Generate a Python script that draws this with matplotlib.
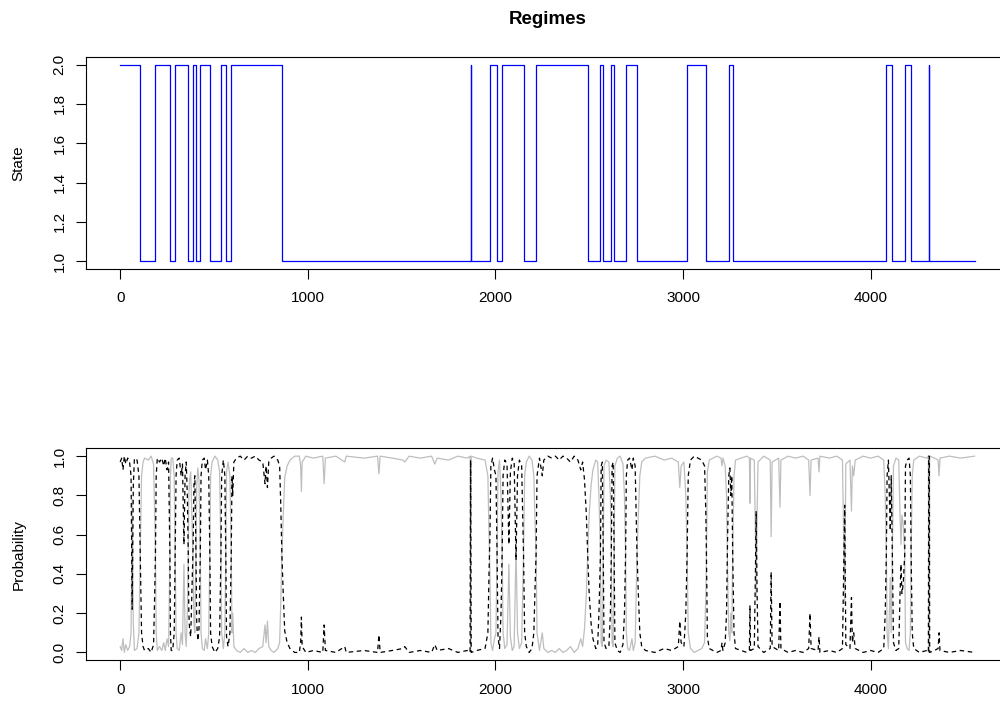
import matplotlib
matplotlib.use('Agg')
import matplotlib.pyplot as plt

# ---------------- data ----------------
# Regime path (step function): time where each regime starts and its state
regime_change = [0, 107, 188, 265, 293, 363, 389, 404, 427, 478,
                 537, 563, 592, 862, 1868, 1869, 1971, 2009, 2036, 2150,
                 2217, 2492, 2560, 2575, 2618, 2633, 2694, 2755, 3022, 3125,
                 3244, 3265, 4084, 4116, 4182, 4216, 4310, 4313]
regime_state = [2, 1, 2, 1, 2, 1, 2, 1, 2, 1,
                2, 1, 2, 1, 2, 1, 2, 1, 2, 1,
                2, 1, 2, 1, 2, 1, 2, 1, 2, 1,
                2, 1, 2, 1, 2, 1, 2, 1]
series_end = 4554

# Smoothed probabilities (vertices)
prob_time = [
    0, 8, 15, 22, 30, 40, 50, 58, 64, 70, 76, 90, 100, 107, 114, 122,
    130, 150, 165, 178, 184, 188, 192, 198,
    210, 222, 232, 240, 250, 258, 262, 265, 268, 272,
    280, 288, 293, 298, 304,
    315, 325, 332, 340, 346, 352, 358, 363, 366,
    370, 376, 382, 386, 389,
    393, 398, 402, 404,
    408, 414, 420, 424, 427,
    431, 438, 448, 455, 465, 472, 478, 482,
    490, 505, 520, 530, 537,
    541, 550, 558, 563, 567,
    575, 585, 592, 596,
    600, 606, 620, 640, 660, 680, 700, 720, 740, 760, 772, 778, 785, 792,
    805, 820, 840, 850, 856, 862, 868, 877, 890, 905, 930,
    955, 962, 966, 970, 990, 1030, 1080, 1087, 1094, 1150, 1197, 1205,
    1300, 1372, 1379, 1386, 1450, 1507, 1517, 1540, 1600, 1660, 1677, 1690,
    1750, 1800, 1850, 1865, 1868, 1871, 1900, 1945, 1960, 1966, 1971, 1976,
    1985, 1995, 2003, 2009, 2014,
    2022, 2030, 2036, 2041,
    2050, 2062, 2072, 2080, 2090, 2100, 2110, 2118, 2128, 2140, 2150, 2156,
    2165, 2180, 2195, 2205, 2212, 2217, 2222,
    2235, 2250, 2258, 2280, 2300, 2320, 2340, 2360, 2380, 2400, 2420, 2440,
    2455, 2465, 2475, 2485, 2492, 2500, 2510, 2520, 2535,
    2545, 2552, 2560, 2564,
    2570, 2575, 2579,
    2590, 2605, 2613, 2618, 2622,
    2628, 2633, 2637,
    2650, 2665, 2680, 2688, 2694, 2698,
    2705, 2715, 2728, 2735, 2745, 2755, 2762, 2770, 2780,
    2800, 2850, 2900, 2940, 2975, 2983, 2990, 3005, 3015, 3022, 3028,
    3040, 3060, 3080, 3100, 3115, 3122, 3125, 3130, 3140,
    3180, 3203, 3208, 3213, 3225, 3232, 3238, 3244, 3250, 3255, 3260, 3265,
    3272, 3280,
    3340, 3354, 3357, 3360, 3380, 3386, 3390, 3395, 3400, 3430, 3465, 3470,
    3475, 3510, 3517, 3522, 3560, 3600, 3640, 3670, 3677, 3683, 3720, 3725,
    3730, 3780, 3820, 3850, 3862, 3868, 3890, 3898, 3903, 3910, 3918, 3960,
    4000, 4040, 4070, 4078, 4084, 4088,
    4095, 4105, 4110, 4116, 4122,
    4135, 4150, 4157, 4162, 4167, 4174, 4182, 4186,
    4195, 4205, 4212, 4216, 4222, 4230,
    4260, 4300, 4308, 4310, 4313, 4315, 4340, 4360, 4365, 4370, 4420, 4480,
    4554,
]

# probability of regime 2 (black dashed)
prob_regime2 = [
    0.97, 0.99, 0.93, 1.0, 0.96, 0.99, 0.97, 0.9, 0.22, 0.85, 0.99, 0.98, 0.9, 0.5, 0.1, 0.03,
    0.01, 0.02, 0.0, 0.04, 0.3, 0.5, 0.9, 0.99,
    0.97, 0.99, 0.95, 0.99, 0.93, 0.97, 0.7, 0.5, 0.1, 0.01,
    0.01, 0.1, 0.5, 0.9, 0.98,
    0.99, 0.9, 0.96, 0.55, 0.9, 0.97, 0.8, 0.5, 0.2,
    0.12, 0.08, 0.3, 0.45, 0.55,
    0.85, 0.9, 0.65, 0.5,
    0.15, 0.06, 0.12, 0.35, 0.5,
    0.9, 0.98, 0.99, 0.93, 0.98, 0.9, 0.5, 0.1,
    0.03, 0.0, 0.02, 0.08, 0.5,
    0.9, 0.98, 0.9, 0.5, 0.08,
    0.03, 0.1, 0.5, 0.9,
    0.8, 0.97, 0.99, 1.0, 0.98, 1.0, 0.99, 1.0, 0.98, 0.97, 0.86, 0.95, 0.84, 0.97,
    0.99, 1.0, 0.98, 0.95, 0.75, 0.5, 0.33, 0.11, 0.05, 0.02, 0.0,
    0.0, 0.05, 0.18, 0.03, 0.0, 0.01, 0.0, 0.14, 0.01, 0.0, 0.03, 0.0,
    0.01, 0.0, 0.09, 0.0, 0.01, 0.02, 0.03, 0.0, 0.01, 0.0, 0.04, 0.01,
    0.02, 0.0, 0.01, 0.0, 0.98, 0.0, 0.01, 0.02, 0.1, 0.4, 0.6, 0.95,
    0.99, 0.93, 0.9, 0.5, 0.08,
    0.02, 0.2, 0.5, 0.9,
    0.98, 0.96, 0.55, 0.92, 0.99, 0.97, 0.47, 0.9, 0.98, 0.95, 0.5, 0.1,
    0.03, 0.0, 0.02, 0.1, 0.35, 0.5, 0.9,
    0.99, 0.9, 0.98, 1.0, 0.99, 1.0, 0.98, 1.0, 0.99, 0.97, 1.0, 0.98,
    0.93, 0.97, 0.88, 0.7, 0.5, 0.3, 0.15, 0.07, 0.02,
    0.03, 0.2, 0.5, 0.95,
    0.97, 0.5, 0.05,
    0.02, 0.03, 0.2, 0.5, 0.95,
    0.97, 0.5, 0.05,
    0.01, 0.0, 0.04, 0.2, 0.5, 0.9,
    0.98, 0.99, 0.93, 0.99, 0.95, 0.5, 0.3, 0.1, 0.03,
    0.01, 0.0, 0.02, 0.01, 0.03, 0.16, 0.05, 0.03, 0.2, 0.5, 0.9,
    0.98, 1.0, 0.99, 0.98, 0.95, 0.7, 0.5, 0.08, 0.02,
    0.0, 0.01, 0.05, 0.01, 0.05, 0.2, 0.6, 0.9, 0.94, 0.8, 0.9, 0.5,
    0.1, 0.02,
    0.0, 0.01, 0.24, 0.01, 0.02, 0.4, 0.72, 0.3, 0.03, 0.0, 0.02, 0.41,
    0.03, 0.01, 0.26, 0.02, 0.0, 0.01, 0.0, 0.02, 0.2, 0.02, 0.01, 0.08,
    0.0, 0.01, 0.0, 0.02, 0.75, 0.04, 0.02, 0.28, 0.05, 0.1, 0.02, 0.0,
    0.01, 0.0, 0.02, 0.2, 0.5, 0.9,
    0.98, 0.62, 0.9, 0.5, 0.05,
    0.01, 0.02, 0.3, 0.45, 0.3, 0.35, 0.5, 0.95,
    0.98, 0.99, 0.9, 0.5, 0.1, 0.02,
    0.0, 0.01, 0.0, 1.0, 1.0, 0.0, 0.01, 0.02, 0.1, 0.01, 0.0, 0.01,
    0.0,
]

# probability of regime 1 (grey solid)
prob_regime1 = [
    0.03, 0.01, 0.07, 0.0, 0.04, 0.01, 0.03, 0.1, 0.78, 0.15, 0.01, 0.02, 0.1, 0.5, 0.9, 0.97,
    0.99, 0.98, 1.0, 0.96, 0.7, 0.5, 0.1, 0.01,
    0.03, 0.01, 0.05, 0.01, 0.07, 0.03, 0.3, 0.5, 0.9, 0.99,
    0.99, 0.9, 0.5, 0.1, 0.02,
    0.01, 0.1, 0.04, 0.45, 0.1, 0.03, 0.2, 0.5, 0.8,
    0.88, 0.92, 0.7, 0.55, 0.45,
    0.15, 0.1, 0.35, 0.5,
    0.85, 0.94, 0.88, 0.65, 0.5,
    0.1, 0.02, 0.01, 0.07, 0.02, 0.1, 0.5, 0.9,
    0.97, 1.0, 0.98, 0.92, 0.5,
    0.1, 0.02, 0.1, 0.5, 0.92,
    0.97, 0.9, 0.5, 0.1,
    0.2, 0.03, 0.01, 0.0, 0.02, 0.0, 0.01, 0.0, 0.02, 0.03, 0.14, 0.05, 0.16, 0.03,
    0.01, 0.0, 0.02, 0.05, 0.25, 0.5, 0.67, 0.89, 0.95, 0.98, 1.0,
    1.0, 0.95, 0.82, 0.97, 1.0, 0.99, 1.0, 0.86, 0.99, 1.0, 0.97, 1.0,
    0.99, 1.0, 0.91, 1.0, 0.99, 0.98, 0.97, 1.0, 0.99, 1.0, 0.96, 0.99,
    0.98, 1.0, 0.99, 1.0, 0.02, 1.0, 0.99, 0.98, 0.9, 0.6, 0.4, 0.05,
    0.01, 0.07, 0.1, 0.5, 0.92,
    0.98, 0.8, 0.5, 0.1,
    0.02, 0.04, 0.45, 0.08, 0.01, 0.03, 0.53, 0.1, 0.02, 0.05, 0.5, 0.9,
    0.97, 1.0, 0.98, 0.9, 0.65, 0.5, 0.1,
    0.01, 0.1, 0.02, 0.0, 0.01, 0.0, 0.02, 0.0, 0.01, 0.03, 0.0, 0.02,
    0.07, 0.03, 0.12, 0.3, 0.5, 0.7, 0.85, 0.93, 0.98,
    0.97, 0.8, 0.5, 0.05,
    0.03, 0.5, 0.95,
    0.98, 0.97, 0.8, 0.5, 0.05,
    0.03, 0.5, 0.95,
    0.99, 1.0, 0.96, 0.8, 0.5, 0.1,
    0.02, 0.01, 0.07, 0.01, 0.05, 0.5, 0.7, 0.9, 0.97,
    0.99, 1.0, 0.98, 0.99, 0.97, 0.84, 0.95, 0.97, 0.8, 0.5, 0.1,
    0.02, 0.0, 0.01, 0.02, 0.05, 0.3, 0.5, 0.92, 0.98,
    1.0, 0.99, 0.95, 0.99, 0.95, 0.8, 0.4, 0.1, 0.06, 0.2, 0.1, 0.5,
    0.9, 0.98,
    1.0, 0.99, 0.76, 0.99, 0.98, 0.6, 0.28, 0.7, 0.97, 1.0, 0.98, 0.59,
    0.97, 0.99, 0.74, 0.98, 1.0, 0.99, 1.0, 0.98, 0.8, 0.98, 0.99, 0.92,
    1.0, 0.99, 1.0, 0.98, 0.25, 0.96, 0.98, 0.72, 0.95, 0.9, 0.98, 1.0,
    0.99, 1.0, 0.98, 0.8, 0.5, 0.1,
    0.02, 0.38, 0.1, 0.5, 0.95,
    0.99, 0.98, 0.7, 0.55, 0.7, 0.65, 0.5, 0.05,
    0.02, 0.01, 0.1, 0.5, 0.9, 0.98,
    1.0, 0.99, 1.0, 0.0, 0.0, 1.0, 0.99, 0.98, 0.9, 0.99, 1.0, 0.99,
    1.0,
]

title_text = "Regimes"
state_label = "State"
prob_label = "Probability"
x_ticks = [0, 1000, 2000, 3000, 4000]
state_ticks = [1.0, 1.2, 1.4, 1.6, 1.8, 2.0]
prob_ticks = [0.0, 0.2, 0.4, 0.6, 0.8, 1.0]

# ---------------- figure ----------------
plt.rcParams['font.family'] = ['Liberation Sans', 'DejaVu Sans']

fig = plt.figure(figsize=(10, 7.02), dpi=100)
ax1 = fig.add_axes([0.086, 0.6168, 0.9227, 0.3024])
ax2 = fig.add_axes([0.086, 0.0594, 0.9227, 0.3020])

step_x = regime_change + [series_end]
step_y = regime_state + [regime_state[-1]]
ax1.step(step_x, step_y, where='post', color='#0000FF', lw=0.9)
ax1.margins(x=0.04, y=0.04)

ax2.plot(prob_time, prob_regime1, color='#BEBEBE', lw=0.9)
ax2.plot(prob_time, prob_regime2, color='black', lw=0.9,
         linestyle=(0, (3.6, 2.9)))
ax2.margins(x=0.04)
ax2.set_ylim(-0.04, 1.04)


def style(ax, yticks, ylabel):
    for s in ax.spines.values():
        s.set_color('black')
        s.set_linewidth(0.8)
    ax.set_xticks(x_ticks)
    ax.set_xticklabels([str(t) for t in x_ticks])
    ax.set_yticks(yticks)
    ax.set_yticklabels([f"{t:.1f}" for t in yticks])
    ax.tick_params(direction='out', length=7, width=0.8, labelsize=11,
                   colors='black')
    ax.tick_params(axis='x', pad=9)
    ax.tick_params(axis='y', pad=7)
    for lab in ax.get_yticklabels():
        lab.set_rotation(90)
        lab.set_va('center')
    ax.set_ylabel(ylabel, fontsize=11)
    ax.yaxis.set_label_coords(-0.0728, 0.5)
    ax.yaxis.label.set_va('center')


style(ax1, state_ticks, state_label)
style(ax2, prob_ticks, prob_label)
ax1.set_title(title_text, fontweight='bold', fontsize=13.5, pad=23.5)

fig.savefig('out.png', dpi=100, facecolor='white')
